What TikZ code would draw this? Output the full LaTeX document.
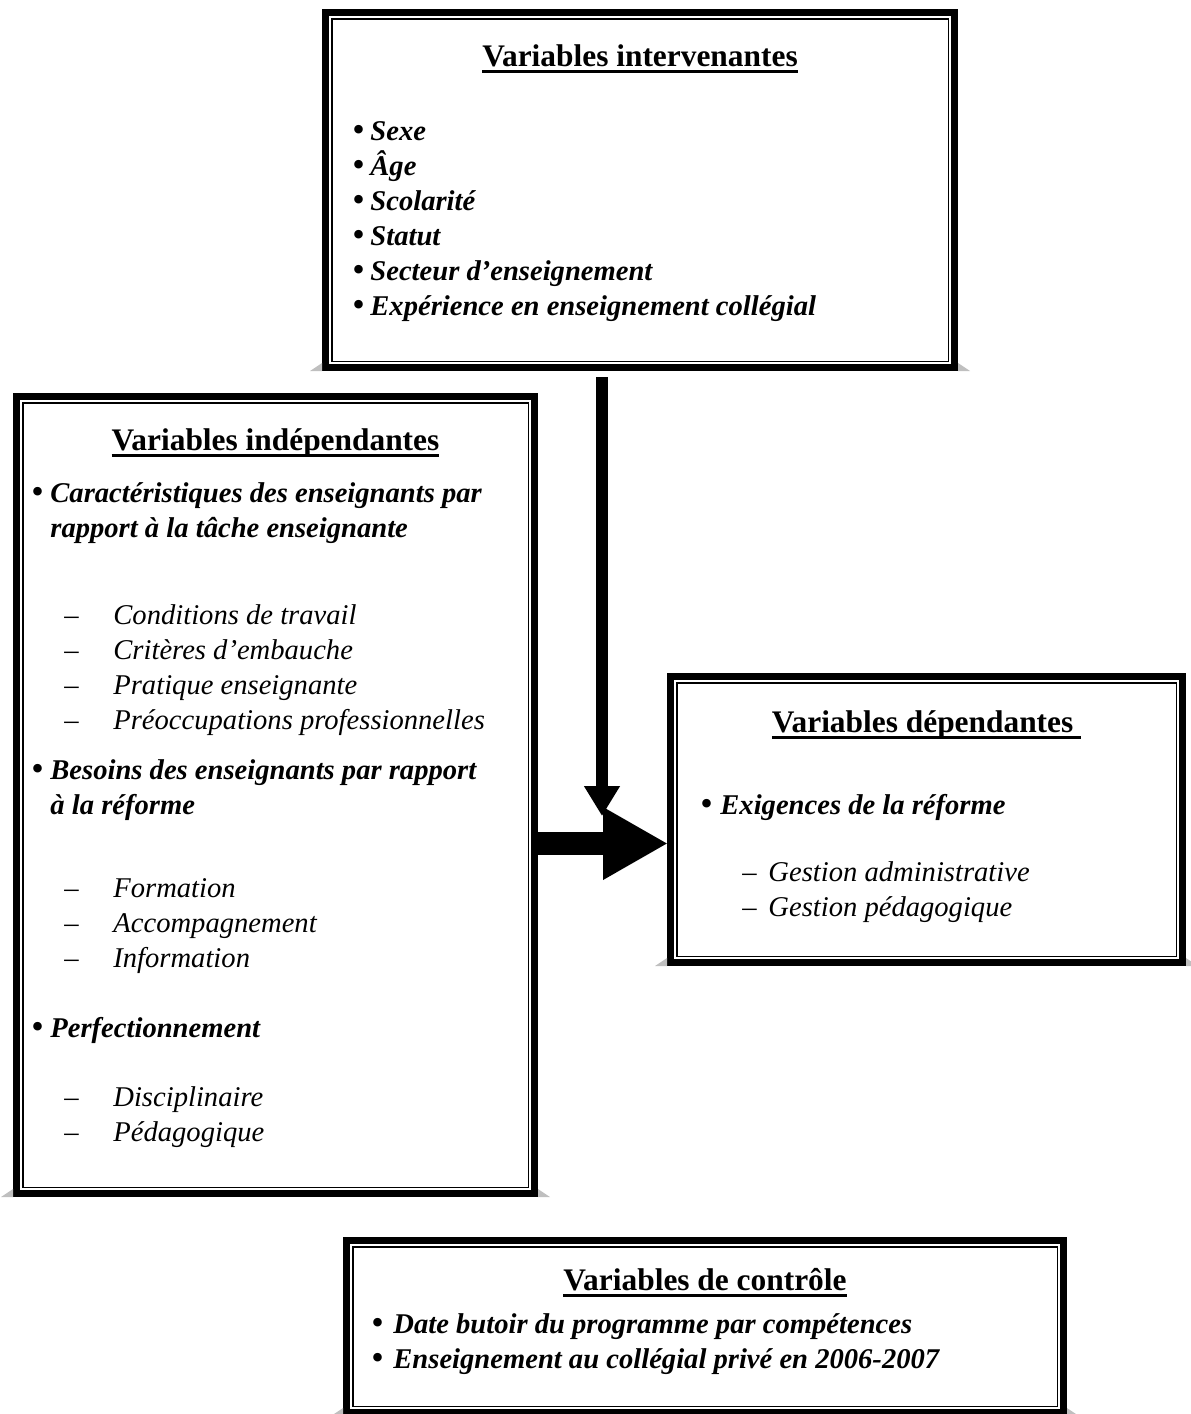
\documentclass[tikz,border=0pt]{standalone}
\usepackage{fontspec}
\setmainfont{Liberation Serif}
\usetikzlibrary{arrows.meta, calc, positioning}

\tikzstyle{vbox} = [rectangle, draw=black, line width=3.5pt, outer sep=0pt, inner sep=0pt]
\tikzstyle{titre} = [anchor=base, inner sep=0pt, font=\fontsize{15.7}{17.5}\selectfont\bfseries]
\tikzstyle{puce} = [anchor=base west, inner sep=0pt, font=\fontsize{14.3}{17.5}\selectfont\bfseries\itshape]
\tikzstyle{tiret} = [anchor=base west, inner sep=0pt, font=\fontsize{14.3}{17.5}\selectfont\itshape]
\tikzstyle{ombre} = [fill=black!25]
\tikzstyle{fleche v} = [line width=6pt, -{Triangle[length=15pt, width=17pt]}]
\tikzstyle{fleche h} = [line width=11.5pt, -{Triangle[length=32.5pt, width=34pt]}]

\newcommand{\souligne}[1]{\setbox0=\hbox{#1}\copy0\llap{\rule[-3.4pt]{\wd0}{1.5pt}}}
\newcommand{\puce}[1][9.5pt]{\makebox[#1][l]{\normalfont\raisebox{-0.9pt}{\scalebox{1.25}{\textbullet}}}}
\newcommand{\tiret}[1][24.5pt]{\makebox[#1][l]{\normalfont\textendash}}
% filet interieur + petites ombres grises
\newcommand{\cadre}[1]{%
  \draw[line width=0.75pt] ([shift={(3.125pt,3.125pt)}]#1.south west) rectangle ([shift={(-3.125pt,-3.125pt)}]#1.north east);
  \fill[ombre] ([shift={(-1.75pt,-1.75pt)}]#1.south west) -- ++(0pt,4pt) -- ++(-6pt,-4pt) -- cycle;
  \fill[ombre] ([shift={(1.75pt,-1.75pt)}]#1.south east) -- ++(0pt,4pt) -- ++(6pt,-4pt) -- cycle;}

\begin{document}
\begin{tikzpicture}[x=0.5pt, y=-0.5pt]
\useasboundingbox (0,0) rectangle (1190,1414);

% cadres
\node (interv) [vbox, minimum width=314.5pt, minimum height=177.5pt] at (640,190) {};
\node (indep) [vbox, minimum width=259pt, minimum height=398.5pt] at (275.5,795) {};
\node (depend) [vbox, minimum width=256pt, minimum height=143pt] at (926.5,819.5) {};
\node (control) [vbox, minimum width=358.5pt, minimum height=86pt] at (705,1326.5) {};
\foreach \b in {interv, indep, depend, control} {\cadre{\b}}

% titres
\node (t-interv) [titre] at (640,66) {\souligne{Variables intervenantes}};
\node (t-indep) [titre] at (275.5,450) {\souligne{Variables indépendantes}};
\node (t-depend) [titre] at (926.5,732) {\souligne{Variables dépendantes\ }};
\node (t-control) [titre] at (705,1290) {\souligne{Variables de contrôle}};

% variables intervenantes
\foreach \t [count=\i] in {Sexe, Âge, Scolarité, Statut, Secteur d’enseignement, Expérience en enseignement collégial}
  \node (interv\i) [puce] at (352,105+35*\i) {\puce[9pt]\t};

% variables independantes
\node (carac) [puce] at (31,502) {\puce Caractéristiques des enseignants par};
\node (carac2) [puce] at (50,537) {rapport à la tâche enseignante};
\foreach \t [count=\i] in {Conditions de travail, Critères d’embauche, Pratique enseignante, Préoccupations professionnelles}
  \node (cond\i) [tiret] at (64,589+35*\i) {\tiret\t};
\node (besoin) [puce] at (31,779) {\puce Besoins des enseignants par rapport};
\node (besoin2) [puce] at (50,814) {à la réforme};
\foreach \t [count=\i] in {Formation, Accompagnement, Information}
  \node (form\i) [tiret] at (64,862+35*\i) {\tiret\t};
\node (perf) [puce] at (31,1037) {\puce Perfectionnement};
\foreach \t [count=\i] in {Disciplinaire, Pédagogique}
  \node (perf\i) [tiret] at (64,1071+35*\i) {\tiret\t};

% variables dependantes
\node (exig) [puce] at (700,814) {\puce[10pt]Exigences de la réforme};
\foreach \t [count=\i] in {Gestion administrative, Gestion pédagogique}
  \node (gest\i) [tiret] at (742,846+35*\i) {\tiret[13pt]\t};

% variables de controle
\node (date) [puce] at (371,1333) {\puce[11pt]Date butoir du programme par compétences};
\node (prive) [puce] at (371,1368) {\puce[11pt]Enseignement au collégial privé en 2006-2007};

% fleches
\coordinate (jonction) at (602,816);
\coordinate (pointe) at (668,843.5);
\draw [fleche v] ($(interv.south -| jonction)+(0,9.5)$) -- (jonction);
\draw [fleche h] (indep.east |- pointe) -- (pointe);
\end{tikzpicture}
\end{document}
